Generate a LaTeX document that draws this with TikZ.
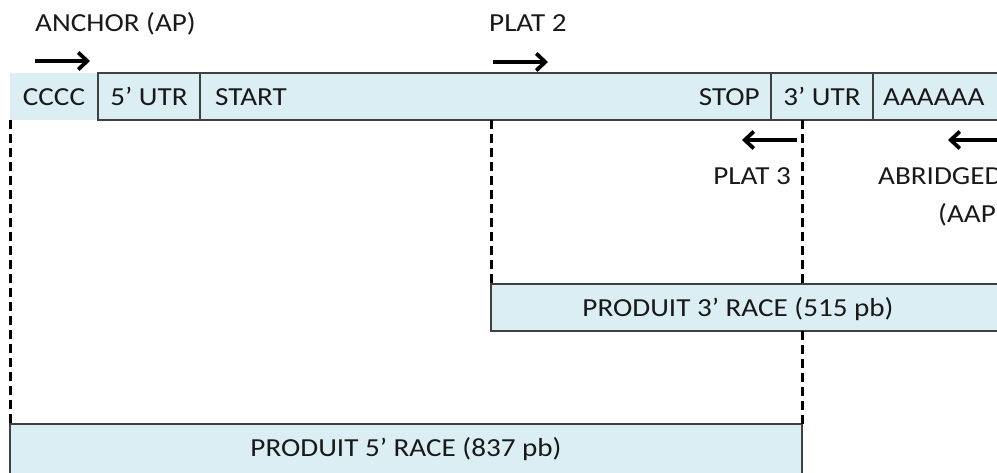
\documentclass[tikz,border=0pt]{standalone}
\usepackage{fontspec}
\setmainfont[FakeStretch = 1.12]{Carlito}
\usetikzlibrary{%
  positioning,
  arrows.meta
}
\definecolor{racefill}{RGB}{219,238,243}
\definecolor{segline}{RGB}{64,64,64}
\tikzset{
  cell/.style = {inner sep = 0, outer sep = 0, minimum height = 47pt,
    text height = 17pt, text depth = 0pt, fill = racefill},
  seg/.style = {cell, draw = segline, line width = 1.6pt},
  lbl/.style = {inner sep = 0, text height = 17pt, text depth = 0pt},
  guide/.style = {black, line width = 3pt, dash pattern = on 9pt off 5pt},
  primer/.style = {black, line width = 3.8pt,
    -{Straight Barb[length = 9pt, width = 17pt]}}
}

\begin{document}
\begin{tikzpicture}[
      x = 1pt, y = -1pt,
      font = \fontsize{26}{30}\selectfont,
      every node/.style = {text = black!90}
      ]
      \useasboundingbox (0,0) rectangle (997,472);
      \clip (0,0) rectangle (997,472);
      % transcript
      \node (cccc) [cell, minimum width = 88pt, anchor = north west] at (10,73) {CCCC};
      \node (utr5) [seg, minimum width = 102pt, right = 0pt of cccc] {5’ UTR};
      \node (cds) [seg, minimum width = 571pt, right = 0pt of utr5] {};
      \node (utr3) [seg, minimum width = 102pt, right = 0pt of cds] {3’ UTR};
      \node (polya) [seg, minimum width = 150pt, right = 0pt of utr3] {};
      \node (start) [lbl, anchor = west] at ([xshift = 15pt] cds.west) {START};
      \node (stop) [lbl, anchor = east] at ([xshift = -11pt] cds.east) {STOP};
      \node (atail) [lbl, anchor = west] at ([xshift = 10pt] polya.west) {AAAAAA};
      % products
      \node (race3) [seg, minimum width = 530pt, anchor = north west] at (491,284) {};
      \node (race5) [seg, minimum width = 792pt, minimum height = 60pt,
        anchor = north west] at (10,424) {};
      \node (race3txt) [lbl] at ([xshift = 247pt] race3.west) {PRODUIT 3’ RACE (515 pb)};
      \node (race5txt) [lbl] at ([yshift = -23.5pt] race5.north) {PRODUIT 5’ RACE (837 pb)};
      \draw [guide] (cccc.south west) -- (race5.north west);
      \draw [guide] (race3.north west |- cds.south) -- (race3.north west);
      \draw [guide] (race5.north east |- cds.south) -- (race5.north east |- race3.north);
      \draw [guide] (race5.north east |- race3.south) -- (race5.north east);
      % primers
      \node (apname) [lbl, anchor = west] at (35,23) {ANCHOR (AP)};
      \node (plat2) [lbl, anchor = west] at (489,23) {PLAT 2};
      \node (plat3) [lbl, anchor = east] at (791,175.5) {PLAT 3};
      \node (aapname) [lbl, anchor = west] at (878,175.5) {ABRIDGED};
      \node (aapcode) [lbl, anchor = west] at (938,214) {(AAP)};
      \coordinate (apa) at (35,61);
      \coordinate (apb) at (90,61);
      \coordinate (p2a) at (493,62);
      \coordinate (p2b) at (548,62);
      \coordinate (p3a) at (797,140);
      \coordinate (p3b) at (742,140);
      \coordinate (aapa) at (1003,140);
      \coordinate (aapb) at (948,140);
      \draw [primer] (apa) -- (apb);
      \draw [primer] (p2a) -- (p2b);
      \draw [primer] (p3a) -- (p3b);
      \draw [primer] (aapa) -- (aapb);
    \end{tikzpicture}
\end{document}
